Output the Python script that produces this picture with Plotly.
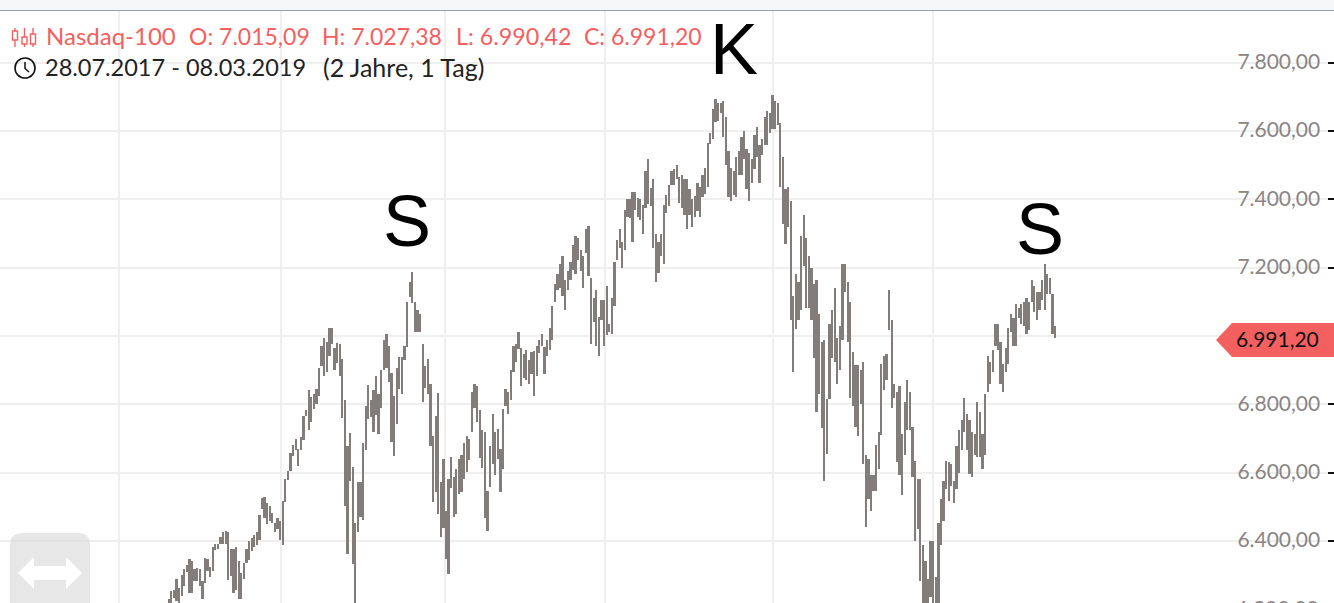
import plotly.graph_objects as go

# Visible daily bars of the Nasdaq-100 (high, low), oldest first
HIGH = [6229,6255,6258,6288,6263,6300,6317,6330,6346,6341,6317,6322,6317,6283,6351,6346,6324,6383,6392,6392,6412,6425,6430,6425,6376,6376,6383,6341,6307,6337,6376,6400,6410,6418,6425,6477,6526,6530,6511,6503,6482,6454,6466,6459,6518,6582,6604,6658,6682,6699,6670,6704,6765,6782,6841,6822,6829,6846,6905,6971,6993,6983,7023,7023,6964,6980,6976,6934,6812,6677,6717,6618,6452,6572,6572,6687,6794,6858,6812,6841,6882,6829,6900,6988,7006,6971,6893,6825,6905,6939,6939,6971,7099,7158,7187,7099,7076,7065,6976,6912,6934,6859,6706,6765,6834,6572,
6640,6488,6582,6645,
6588,6611,6640,6653,6687,6706,6699,6836,6859,6853,6782,6724,6719,6547,6677,6771,6718,6729,6670,6787,6846,6836,6900,6971,6976,7011,6964,6947,6959,6929,6952,6957,6971,6988,7006,6969,6988,7024,7088,7153,7182,7212,7235,7165,7189,7218,7265,7294,7287,7253,7235,7312,7323,7171,7112,7135,7057,7106,7106,7147,7035,7111,7218,7282,7312,7276,7370,7400,7400,7421,7421,7405,7400,7382,7482,7517,7434,7459,7300,7276,7300,7382,7412,7441,7482,7488,7500,7465,7470,7459,7459,7429,7400,7410,7447,7435,7470,7493,7564,7594,7664,7694,7682,7682,7688,7641,7541,7493,7482,7523,7541,7582,7600,7547,7535,7517,7588,7612,7559,7576,7641,7659,7653,7706,7688,7682,7623,7523,7429,7435,
7394,7118,7182,7159,7294,7353,7288,7235,7200,7153,7165,7065,6982,6988,6817,7035,7076,7141,6994,7029,7212,7212,7159,7100,6953,6915,6915,6900,6924,6653,6641,6594,6594,6682,6718,6918,6941,6947,7135,7047,6859,6835,6853,6712,6806,6871,6835,6735,6635,6582,6582,6388,6341,6288,6400,6400,6294,6453,6524,6577,6635,6630,6624,6577,6677,6724,6753,6818,6771,6753,6718,6712,6806,6777,6712,6829,6941,6924,6959,7035,7035,6982,6918,6965,7024,7065,7053,7094,7082,7094,7100,7112,7100,7165,7147,7129,7129,7165,7212,7182,7171,7123,7029]
LOW = [6210,6204,6234,6224,6209,6239,6268,6310,6248,6248,6283,6283,6268,6231,6278,6312,6294,6312,6373,6376,6390,6392,6390,6285,6297,6248,6258,6231,6231,6288,6337,6343,6371,6381,6388,6402,6493,6467,6449,6459,6454,6425,6435,6402,6388,6513,6579,6604,6648,6665,6619,6665,6696,6765,6724,6748,6787,6802,6824,6912,6883,6895,6942,6978,6900,6920,6883,6761,6501,6361,6577,6332,6145,6425,6469,6461,6667,6758,6763,6719,6768,6714,6789,6900,6905,6866,6689,6648,6743,6846,6831,6931,6969,7113,7096,7013,7013,7013,6807,6848,6831,6678,6515,6542,6479,6413,
6437,6348,6302,6555,
6469,6479,6537,6542,6582,6601,6637,6719,6790,6748,6643,6614,6467,6430,6559,6624,6594,6640,6542,6611,6794,6771,6812,6895,6925,6961,6854,6876,6871,6859,6888,6825,6882,6949,6971,6888,6941,6959,6988,7100,7135,7141,7118,7076,7135,7165,7194,7182,7223,7189,7141,7243,7176,6976,7041,6971,6941,7047,6971,7003,7012,7006,7088,7223,7259,7200,7253,7349,7346,7276,7370,7347,7341,7300,7376,7385,7380,7259,7159,7184,7235,7212,7359,7380,7441,7441,7459,7388,7376,7353,7312,7353,7318,7347,7365,7347,7406,7417,7435,7562,7576,7625,7629,7653,7582,7500,7406,7394,7412,7406,7470,7470,7517,7429,7394,7447,7488,7523,7447,7529,7559,7559,7594,7606,7606,7617,7435,7329,7270,7318,
7047,6894,7020,7047,7076,7206,7082,7082,7047,6935,6777,6829,6730,6577,6655,6817,6935,6924,6859,6900,6988,7129,6982,6818,6794,6735,6706,6800,6624,6441,6524,6488,6547,6547,6612,6710,6841,6871,7018,6788,6818,6630,6594,6535,6653,6724,6724,6588,6400,6436,6283,6155,6155,6116,6236,6136,6155,6155,6388,6459,6553,6518,6562,6512,6553,6600,6665,6718,6665,6596,6588,6653,6647,6647,6612,6653,6835,6859,6894,6971,6959,6859,6835,6894,6918,7012,6971,6971,7053,7035,7029,7006,7018,7100,7071,7047,7076,7106,7076,7123,7123,7006,6994]

Y_TICKS = [6400, 6600, 6800, 7000, 7200, 7400, 7600, 7800]
Y_LABELS = ["6.400,00", "6.600,00", "6.800,00", "", "7.200,00", "7.400,00", "7.600,00", "7.800,00"]
LAST_PRICE = "6.991,20"
TITLE_ROW = [("Nasdaq-100", 46, 24), ("O: 7.015,09", 189, 23), ("H: 7.027,38", 322, 23), ("L: 6.990,42", 456, 23.3), ("C: 6.991,20", 584, 23)]
RANGE_ROW = [("28.07.2017 - 08.03.2019", 45, 23.5), ("(2 Jahre, 1 Tag)", 323, 25)]
PATTERN = [("S", 407, 221), ("K", 734.5, 49), ("S", 1040, 229)]
GRID_PX = [119, 281, 445, 605, 773, 933]

W, H = 1334, 603
FONT = "Lato"
RED = "#f4605f"
GRID = "#efefef"

n = len(HIGH)
first_px, last_px = 168.7, 1055.0
step = (last_px - first_px) / (n - 1)
to_idx = lambda px: (px - first_px) / step
X_GRID = [to_idx(p) for p in GRID_PX]
idx = list(range(n))
px_per_unit = 68.33 / 200
y_at = lambda py: 7000 + (336 - py) / px_per_unit
px = lambda x: x / W
py = lambda y: 1 - y / H

fig = go.Figure(go.Bar(
    x=idx, y=[h - l for h, l in zip(HIGH, LOW)], base=LOW,
    width=2.25 / step, marker=dict(color="#827c7a", line_width=0), hoverinfo="skip",
))

shapes = [
    dict(type="rect", xref="paper", yref="paper", x0=px(1236), x1=px(1328), y0=0, y1=py(11), fillcolor="#ffffff", line_width=0, layer="between"),
    dict(type="rect", xref="paper", yref="paper", x0=0, x1=1, y0=py(10), y1=1, fillcolor="#f6f7f9", line_width=0),
    dict(type="line", xref="paper", yref="paper", x0=0, x1=1, y0=py(10.5), y1=py(10.5), line=dict(color="#9a9ca6", width=1)),
    # price tag
    dict(type="path", xref="paper", yref="paper",
         path=f"M {px(1216)} {py(340)} L {px(1232)} {py(323)} L 1 {py(323)} L 1 {py(357)} L {px(1232)} {py(357)} Z",
         fillcolor=RED, line_width=0),
    # pan button
    dict(type="path", xref="paper", yref="paper",
         path=f"M {px(10)} {py(603)} L {px(10)} {py(545)} Q {px(10)} {py(533)} {px(22)} {py(533)} L {px(78)} {py(533)} Q {px(90)} {py(533)} {px(90)} {py(545)} L {px(90)} {py(603)} Z",
         fillcolor="rgba(215,215,215,0.6)", line_width=0),
    dict(type="path", xref="paper", yref="paper",
         path=f"M {px(18)} {py(573)} L {px(34)} {py(557)} L {px(34)} {py(566)} L {px(66)} {py(566)} L {px(66)} {py(557)} L {px(82)} {py(573)} L {px(66)} {py(589)} L {px(66)} {py(580)} L {px(34)} {py(580)} L {px(34)} {py(589)} Z",
         fillcolor="#ffffff", line_width=0),
    # clock icon
    dict(type="circle", xref="paper", yref="paper", x0=px(15), x1=px(35), y0=py(58), y1=py(78), line=dict(color="#111", width=1.6), fillcolor="rgba(0,0,0,0)"),
    dict(type="path", xref="paper", yref="paper", path=f"M {px(25)} {py(62)} L {px(25)} {py(68.5)} L {px(29)} {py(72)}", line=dict(color="#111", width=1.5)),
]
# candlestick icon
for cx, top, bottom, b0, b1 in [(15, 28, 47, 31, 40), (24.5, 28, 47, 37, 44), (33, 28, 47, 34, 44)]:
    shapes.append(dict(type="line", xref="paper", yref="paper", x0=px(cx), x1=px(cx), y0=py(top), y1=py(bottom), line=dict(color=RED, width=1.4)))
    shapes.append(dict(type="rect", xref="paper", yref="paper", x0=px(cx - 2.5), x1=px(cx + 2.5), y0=py(b0), y1=py(b1), line=dict(color=RED, width=1.4), fillcolor="#ffffff"))

annotations = []
def text(s, x, y, size, color, family=FONT, anchor="left"):
    annotations.append(dict(text=s, xref="paper", yref="paper", x=px(x), y=py(y), xanchor=anchor, yanchor="middle",
                            showarrow=False, font=dict(family=family, size=size, color=color), borderpad=0, borderwidth=0))
for s, x, size in TITLE_ROW:
    text(s, x, 36, size, RED)
for s, x, size in RANGE_ROW:
    text(s, x, 67, size, "#222222")
for s, x, y in PATTERN:
    text(s, x, y, 72, "#000000", "Liberation Sans", "center")
text(LAST_PRICE, 1319, 338.5, 21, "#111111", anchor="right")
text("6.200,00", 1319, 607, 21, "#8a8584", anchor="right")

fig.update_layout(
    width=W, height=H, margin=dict(l=0, r=0, t=0, b=0),
    paper_bgcolor="#ffffff", plot_bgcolor="#ffffff", showlegend=False,
    shapes=shapes, annotations=annotations, bargap=0,
    xaxis=dict(range=[to_idx(0), to_idx(W)], tickmode="array", tickvals=X_GRID, showticklabels=False,
               showgrid=True, gridcolor=GRID, gridwidth=2, zeroline=False, ticks=""),
    yaxis=dict(range=[y_at(H), y_at(0)], side="right", tickmode="array", tickvals=Y_TICKS, ticktext=Y_LABELS,
               ticklabelposition="inside", ticks="inside", ticklen=6, tickwidth=2, tickcolor="#111111",
               ticklabelstandoff=9, ticklabelshift=-1, showgrid=True, gridcolor=GRID, gridwidth=2, zeroline=False,
               tickfont=dict(family=FONT, size=21, color="#8a8584")),
)
fig.write_html("out.html", config=dict(displayModeBar=False),
               post_script="document.body.style.margin='0';document.body.style.overflow='hidden';")
